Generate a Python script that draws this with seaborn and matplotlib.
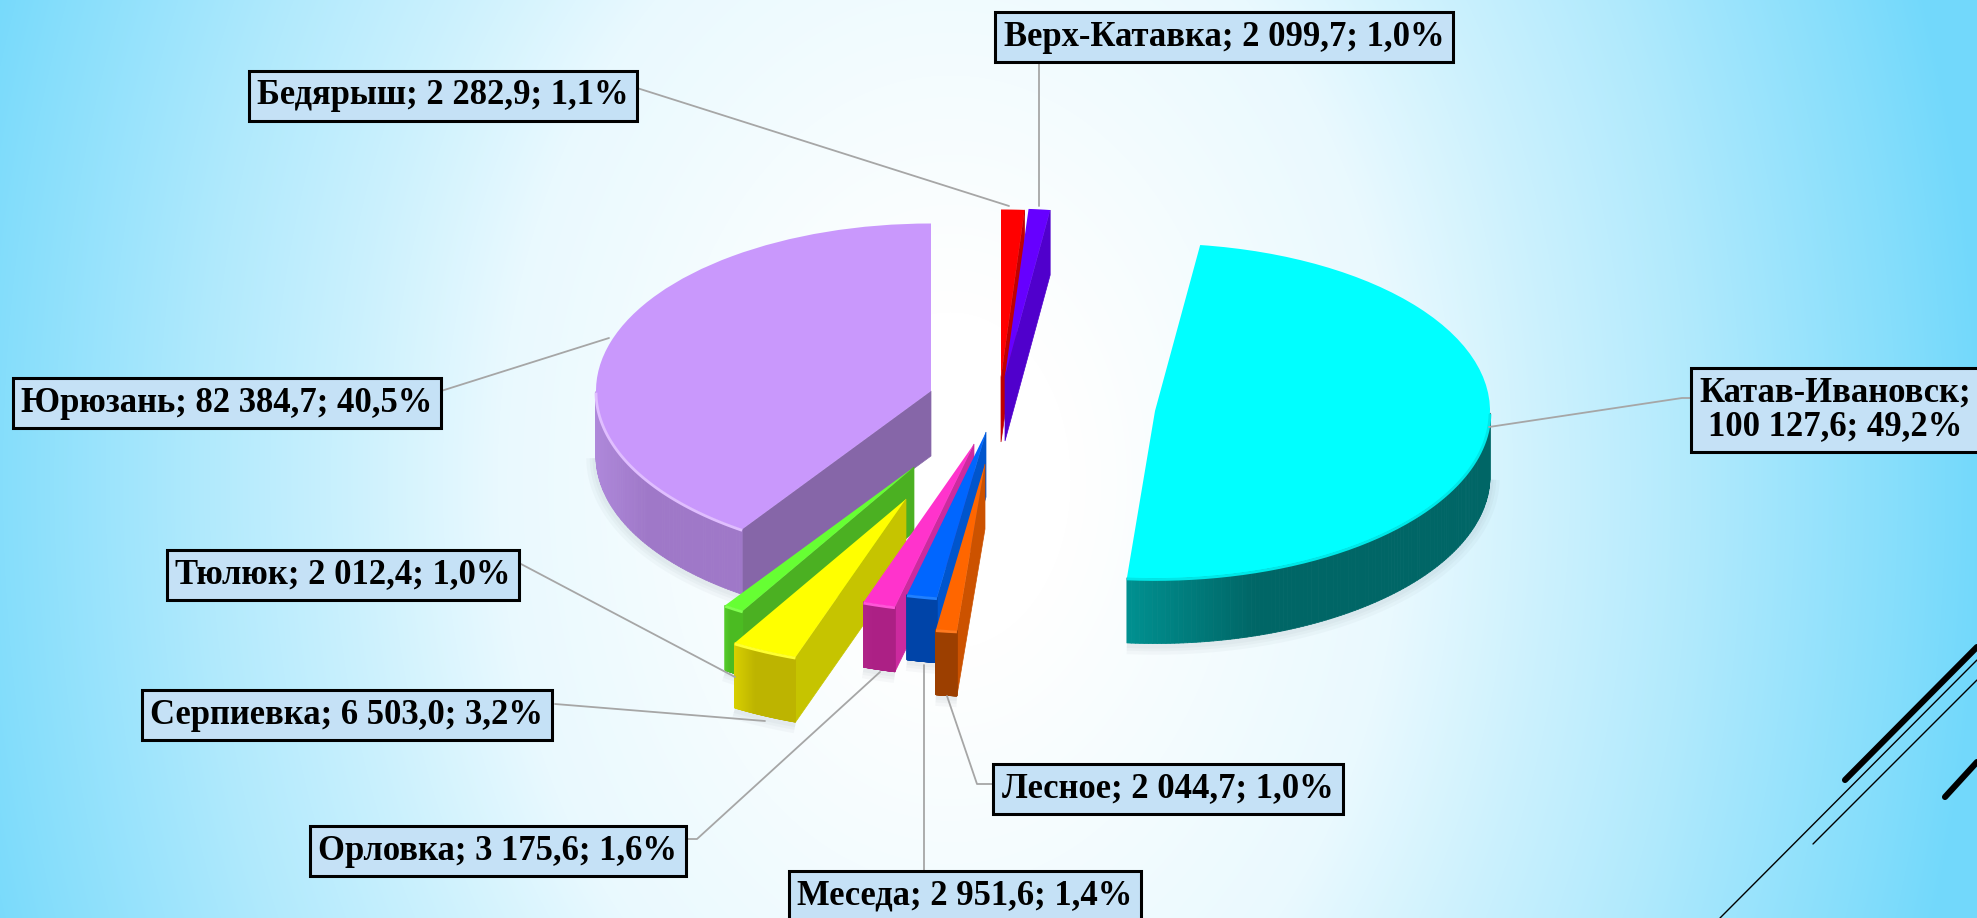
import numpy as np
import matplotlib
matplotlib.use("Agg")
import matplotlib.pyplot as plt
import seaborn as sns
from matplotlib.collections import PolyCollection
from matplotlib.colors import to_rgb

# ---- data ----
names = ["Бедярыш", "Верх-Катавка", "Катав-Ивановск", "Лесное", "Меседа",
         "Орловка", "Серпиевка", "Тюлюк", "Юрюзань"]
values = [2282.9, 2099.7, 100127.6, 2044.7, 2951.6, 3175.6, 6503.0, 2012.4, 82384.7]

# ---- style ----
top_colors = ["#FF0000", "#6600FF", "#00FFFF", "#FF6600", "#0066FF", "#FF33CC", "#FFFF00", "#66FF33", "#C998FC"]
wall_left = ["#C00000", "#5000CC", "#009090", "#9C3F00", "#0044A8", "#B02488", "#D8D000", "#55CC2A", "#AE88DA"]
wall_right = ["#C00000", "#5000CC", "#006666", "#9C3F00", "#0044A8", "#AC2085", "#BDB400", "#4BBB22", "#9F78C8"]
cut_colors = ["#C00000", "#5000CC", "#006666", "#CC5200", "#0055CC", "#CC2A9F", "#C6C400", "#4BB022", "#8666A8"]
rim_colors = ["#FF0000", "#6600FF", "#00E8E8", "#FF7A20", "#2080FF", "#FF55D8", "#FFFF30", "#80FF50", "#E0BEFF"]
centers_px = [(1001, 377), (1005, 376), (1155, 411), (985, 464), (986, 432),
              (974, 444), (906, 499), (914, 467), (931, 391)]
draw_order = [0, 1, 8, 7, 6, 5, 4, 3, 2]
label_pos = [(443, 96), (1224, 37), (1835, 410), (1168, 789), (965, 896),
             (498, 851), (347, 715), (343, 575), (227, 403)]
leaders = [
    [(637, 88), (1009, 206)],
    [(1039, 61), (1039, 206)],
    [(1692, 398), (1682, 398), (1489, 427)],
    [(993, 784), (977, 784), (947, 696)],
    [(924, 871), (924, 665)],
    [(687, 839), (697, 839), (880, 672)],
    [(555, 704), (765, 721)],
    [(521, 564), (735, 677)],
    [(441, 391), (609, 338)],
]
deco = [((1845, 780), (1977, 647), 4.4), ((1945, 797), (1977, 762), 4.4),
        ((1720, 918), (1977, 660), 1.0), ((1813, 844), (1977, 680), 1.0)]
RADIUS = 335
DEPTH = 65

sns.set_theme(style="white")
plt.rcParams["font.family"] = ["Liberation Serif", "DejaVu Serif"]
palette = sns.color_palette(top_colors)

W, H = 1977, 918
fig = plt.figure(figsize=(W / 100, H / 100), dpi=100)
ax = fig.add_axes([0, 0, 1, 1])


def Y(py):
    return 2 * (H - py)


# background
xx, yy = np.meshgrid(np.arange(W), np.arange(H))
t = np.hypot((xx - 950) / 1000, (yy - 480) / 1400)
mix = np.interp(t, [0.12, 0.45, 0.6, 0.75, 0.95, 1.03], [0, 0.15, 0.36, 0.55, 0.85, 0.98])[..., None]
edge = np.array(to_rgb("#70D8FB"))
ax.imshow(np.ones((H, W, 3)) * (1 - mix) + edge * mix,
          extent=(0, W, 0, 2 * H), origin="upper", zorder=0, aspect="auto")

wedges, _ = ax.pie(values, colors=palette, startangle=90, counterclock=False,
                   radius=RADIUS, wedgeprops=dict(linewidth=0))
ax.set_aspect("auto")
ax.set_xlim(0, W)
ax.set_ylim(0, 2 * H)
ax.axis("off")

for z, i in enumerate(draw_order):
    w = wedges[i]
    cx, cy = centers_px[i][0], Y(centers_px[i][1])
    w.set_center((cx, cy))
    base = 10 + z * 5
    d = 2 * DEPTH
    # cut faces
    for th, nrm in ((w.theta1, w.theta1 - 90), (w.theta2, w.theta2 + 90)):
        if np.sin(np.radians(nrm)) < -1e-6:
            ox = cx + RADIUS * np.cos(np.radians(th))
            oy = cy + RADIUS * np.sin(np.radians(th))
            ax.fill([cx, ox, ox, cx], [cy, oy, oy - d, cy - d],
                    color=cut_colors[i], lw=0.5, zorder=base)
    # outer wall
    ang = np.radians(np.linspace(w.theta1, w.theta2, 240))
    ang = ang[np.sin(ang) < 0.0]
    if len(ang) > 1:
        px = cx + RADIUS * np.cos(ang)
        py = cy + RADIUS * np.sin(ang)
        span = max(px.max() - px.min(), 1)
        polys, cols = [], []
        for k in range(len(ang) - 1):
            polys.append([(px[k], py[k]), (px[k + 1], py[k + 1]),
                          (px[k + 1], py[k + 1] - d), (px[k], py[k] - d)])
            f = np.clip((px[k] - px.min()) / (span * 0.35), 0, 1)
            cols.append((1 - f) * np.array(to_rgb(wall_left[i])) + f * np.array(to_rgb(wall_right[i])))
        ax.add_collection(PolyCollection(polys, facecolors=cols, edgecolors=cols,
                                         linewidths=0.6, zorder=base + 1))
        ax.plot(px, py - 2, color=rim_colors[i], lw=2, zorder=base + 3, solid_capstyle="butt")
        # soft shadow under the wall
        for lw in (14, 9, 5):
            ax.plot(px, py - d - 3, color="#607080", lw=lw, alpha=0.045, zorder=6, solid_capstyle="butt")
    w.set_zorder(base + 2)

# leader lines
for pts in leaders:
    ax.plot([p[0] for p in pts], [Y(p[1]) for p in pts], color="#A6A6A6", lw=1.3, zorder=60)

# labels
total = sum(values)


def fmt(name, v, wrap):
    whole, frac = f"{v:.1f}".split(".")
    num = (f"{int(whole):,}".replace(",", " ")) + "," + frac
    pct = f"{100 * v / total:.1f}".replace(".", ",")
    sep = ";\n" if wrap else "; "
    return f"{name}{sep}{num}; {pct}%"


for name, v, (x, y) in zip(names, values, label_pos):
    ax.text(x, Y(y), fmt(name, v, v > 90000), ha="center", va="center", ma="center",
            fontsize=24.9, fontweight="bold", color="black", zorder=70, linespacing=1.0,
            bbox=dict(boxstyle="square,pad=0.25", fc="#C5E1F6", ec="black", lw=2.2))

# slide decoration
for a, b, lw in deco:
    ax.plot([a[0], b[0]], [Y(a[1]), Y(b[1])], color="black", lw=lw, solid_capstyle="round", zorder=5)

fig.savefig("out.png", dpi=100)
